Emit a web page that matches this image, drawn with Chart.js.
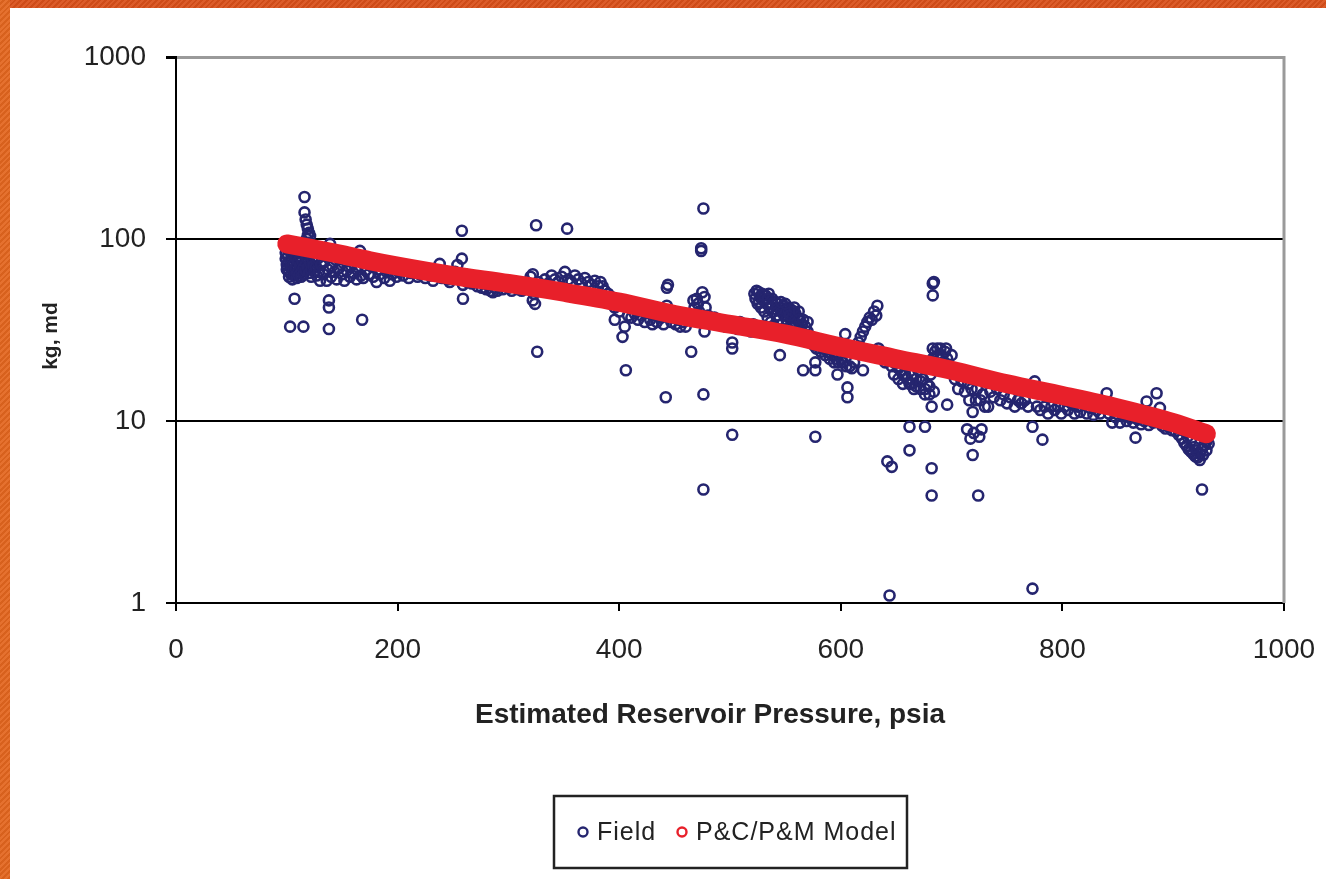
<!DOCTYPE html>
<html>
<head>
<meta charset="utf-8">
<title>kg vs reservoir pressure</title>
<script src="https://cdn.jsdelivr.net/npm/chart.js@4/dist/chart.umd.min.js"></script>
<style>
  html, body { margin: 0; padding: 0; background: #fff; overflow: hidden; }
  #wrap { position: relative; width: 1326px; height: 879px; }
  #myChart { position: absolute; left: 0; top: 0; }
  .band { position: absolute;
    background-image: repeating-linear-gradient(135deg, rgba(255,255,255,0.07) 0 2px, rgba(0,0,0,0.05) 2px 4px); }
  #band-top { left: 0; top: 0; width: 1326px; height: 8px; background-color: #d9501a; }
  #band-left { left: 0; top: 0; width: 10px; height: 879px; background-color: #e3661f; }
</style>
</head>
<body>
<div id="wrap">
  <canvas id="myChart" width="1326" height="879"></canvas>
  <div class="band" id="band-top"></div>
  <div class="band" id="band-left"></div>
</div>
<script>
// model curve (P&C/P&M), pressure in psia and kg in md
const modelPressure = [100, 125, 150, 175, 200, 250, 300, 350, 400, 450, 500, 550, 600, 650, 700, 750, 800, 850, 900, 930];
const modelKg = [94, 88, 82, 76, 71, 63, 57, 51, 45, 38.5, 34, 30, 25.5, 22, 19, 16, 13.8, 11.8, 9.8, 8.5];

// field measurements [psia, md]
const fieldPoints = [
  [99,90],[99,84],[99,78],[100,72],[100,68],[101,88],[101,80],[101,74],[102,66],[102,62],
  [103,92],[103,85],[103,76],[104,70],[104,64],[105,60],[105,82],[106,72],[106,67],[107,63],
  [107,88],[108,78],[108,70],[109,65],[109,61],[110,84],[110,75],[111,68],[111,63],[112,80],
  [112,71],[113,66],[113,62],[114,90],[114,76],[115,69],[115,64],[116,95],[116,85],[117,73],
  [117,67],[118,100],[118,79],[119,105],[119,70],[120,65],[120,83],[121,74],[122,68],[122,62],
  [123,78],[124,71],[125,66],
  [116,170],[116,140],[117,128],[118,120],[119,114],[120,108],[121,104],
  [107,47],[103,33],[115,33],[138,46],[138,42],[138,32],[168,36],
  [126,70],[127,63],[128,78],[129,66],[130,59],[131,72],[132,84],[133,64],[134,75],[136,59],
  [137,68],[138,80],[139,94],[140,62],[141,71],[143,66],[144,77],[145,60],[147,69],[148,83],
  [150,64],[151,74],[152,59],[154,67],[155,79],[157,62],[158,71],[160,65],[161,76],[163,60],
  [164,70],[166,86],[167,63],[168,74],[169,61],[171,67],[172,78],[174,64],[176,71],[178,62],
  [179,75],[181,58],[182,68],[184,64],[186,72],[188,61],[190,66],[192,70],[193,59],[195,64],
  [197,68],[199,62],[201,66],[203,70],[205,63],[208,67],[210,61],[212,65],[215,68],[218,62],
  [220,64],[223,66],[225,61],[228,64],[230,63],[232,59],[235,65],[238,73],[240,61],[243,63],
  [245,60],[247,58],[250,62],
  [252,66],[254,72],[256,60],[258,78],[258,111],[259,56],[259,47],[261,64],[263,58],[265,62],
  [267,57],[270,60],[272,55],[274,58],[276,54],[278,57],[280,53],[282,56],[284,52],[286,51],
  [288,54],[290,52],[292,55],[295,53],[298,56],[300,54],[303,52],[306,55],[309,53],[312,52],
  [315,54],[318,56],[320,62],[322,64],[322,46],[323,50],[324,44],[325,119],[326,24],[327,58],
  [330,55],[333,60],[336,57],[339,63],[342,60],[345,58],[348,62],[351,66],[353,114],[354,60],
  [357,58],[360,63],[363,60],[366,57],[369,61],[372,58],[375,56],[378,59],[381,55],[383,58],
  [385,55],[387,52],[390,50],[393,48],
  [396,42],[396,36],[400,40],[403,29],[405,33],[406,19],[408,38],[411,37],[414,39],[417,36],
  [420,38],[423,35],[426,40],[428,36],[430,34],[432,38],[434,35],[436,41],[438,37],[440,34],
  [442,13.5],[443,43],[443,54],[444,56],[445,38],[447,35],[449,37],[451,34],[453,36],[455,33],
  [458,35],[460,33],
  [465,24],[467,46],[468,42],[470,47],[471,44],[472,40],[474,89],[474,86],[475,51],[476,147],
  [476,14],[476,4.2],[477,31],[477,48],[478,42],[480,38],[482,36],[484,35],[486,37],[488,34],
  [490,36],[492,34],[494,35],[496,33],[498,35],[500,34],[502,27],[502,25],[502,8.4],[503,33],
  [505,34],[507,32],[509,35],[511,33],[513,34],[515,32],[517,33],[519,31],[521,34],
  [522,50],[523,47],[524,52],[525,44],[526,51],[527,48],[528,42],[529,50],[530,46],[531,40],
  [532,49],[533,44],[534,37],[535,50],[536,42],[537,35],[538,47],[539,40],[540,33],[541,45],
  [542,38],[543,44],[544,36],[545,23],[545,42],[546,40],[547,34],[548,43],[549,38],[550,41],
  [551,36],[552,42],[553,39],[554,33],[555,41],[556,37],[557,40],[558,35],[559,39],[560,34],
  [561,37],[562,32],[563,36],[564,31],[565,34],[566,19],[567,30],[568,33],[569,29],[570,31],
  [572,28],[526,45],[530,49],[534,47],[538,44],[542,41],[546,45],[550,44],[554,38],[558,42],
  [562,40],[566,36],[570,35],
  [574,27],[576,26],[577,21],[577,19],[577,8.2],[578,25],[580,26],[582,24],[584,25],[586,23],
  [588,24],[590,22],[592,23],[594,21],[596,22],[597,18],[598,21],[600,22],[602,21],[604,30],
  [605,20],[606,15.3],[606,13.5],[608,20],[610,19.5],[612,21],[614,24],[616,27],[618,29],[620,19],
  [620,31],[622,33],[624,35],[626,37],[628,36],[630,40],[632,38],[633,43],[634,25],[636,24],
  [638,22],[640,21],[642,6],
  [644,1.1],[646,5.6],[644,22],[646,20],[648,18],[650,21],[652,17],[654,19],[656,16],[658,18],
  [660,20],[662,16],[662,9.3],[662,6.9],[664,18],[666,15],[668,17],[670,19],[672,15],[674,17],
  [676,14],[676,9.3],[678,16],[680,14],[681,18],[682,12],[682,5.5],[682,3.9],[683,22],[683,25],
  [683,49],[683,57],[684,58],[685,24],[686,20],[688,23],[690,25],[692,21],[694,24],[696,22],
  [696,12.3],[698,20],[700,23],[701,19],
  [648,21],[652,19.5],[656,18],[660,17],[664,16],[668,15.5],[672,16.5],[676,15],[680,15.5],[684,14.5],
  [687,25],[691,23],[695,25],
  [703,17],[706,15],[709,16.5],[712,14.5],[714,9],[715,16],[716,13],[717,8],[718,15],[719,11.2],
  [719,6.5],[720,8.6],[722,13],[723,15],[724,3.9],[725,8.2],[726,13],[727,9],[728,14],[730,12],
  [733,12],[735,14.5],[738,13.5],[741,15],[744,13],[747,14],[750,12.5],[753,13.5],[757,12],[760,13],
  [763,12.5],[766,13],[769,12],[772,15.5],[773,9.3],[773,1.2],[775,16.5],[777,12],[780,11.5],[782,7.9],
  [784,12],[787,11],[790,12],[793,11.5],[796,12],[799,11],
  [802,12],[805,11.5],[808,12.5],[811,11],[814,12],[816,11.2],[819,12.3],[822,11],[825,11.8],[828,10.8],
  [831,11.5],[834,11],[837,12],[840,14.2],[842,11],[845,9.8],[848,10.5],[852,9.8],[855,10.6],[858,10],
  [861,10.4],[864,9.8],[866,8.1],[868,10.2],[871,9.6],[874,10],[876,12.8],[878,9.5],[882,9.8],[885,14.2],
  [888,11.8],[890,9.4],[893,9.1],[896,9.3],[899,8.9],[902,8.8],[905,8.4],[908,8],[910,7.6],[912,7.3],
  [914,7],[916,6.8],[918,6.6],[920,6.4],[922,6.3],[924,6.6],[926,4.2],[926,7],[928,7.4],[929,8],
  [930,7.7],[931,8.5],[910,8.8],[913,8.2],[916,7.8],[919,7.2],[921,6.9],[924,6.1],[927,6.5],[930,6.9],
  [932,7.5]
];

const yTickValues = [1, 10, 100, 1000];
const seriesNames = ['Field', 'P&C/P&M Model'];
const xTitle = 'Estimated Reservoir Pressure, psia';
const yTitle = 'kg, md';

const fieldColor = '#25256f';
const modelColor = '#e8202a';
const fontFamily = '"Liberation Sans", Arial, sans-serif';

// grey right edge of the plot, axis titles and the boxed legend below
const boxPlugin = {
  id: 'boxPlugin',
  afterDraw(chart) {
    const ctx = chart.ctx;
    const area = chart.chartArea;
    ctx.save();
    ctx.strokeStyle = '#9a9a9a';
    ctx.lineWidth = 3;
    ctx.beginPath();
    ctx.moveTo(area.right, area.top - 1);
    ctx.lineTo(area.right, area.bottom);
    ctx.stroke();

    ctx.fillStyle = '#222';
    ctx.font = 'bold 28px ' + fontFamily;
    ctx.textAlign = 'center';
    ctx.textBaseline = 'middle';
    ctx.fillText(xTitle, 710, 715);

    ctx.save();
    ctx.translate(51, 336);
    ctx.rotate(-Math.PI / 2);
    ctx.font = 'bold 21px ' + fontFamily;
    ctx.fillText(yTitle, 0, 0);
    ctx.restore();

    // legend
    const boxX = 554, boxY = 796, boxW = 353, boxH = 72;
    ctx.strokeStyle = '#222';
    ctx.lineWidth = 2.5;
    ctx.strokeRect(boxX, boxY, boxW, boxH);
    const midY = boxY + boxH / 2;
    ctx.font = '25px ' + fontFamily;
    ctx.letterSpacing = '1px';
    ctx.textAlign = 'left';
    const items = [
      { color: fieldColor, cx: 583, tx: 597, text: seriesNames[0] },
      { color: modelColor, cx: 682, tx: 696, text: seriesNames[1] }
    ];
    items.forEach(it => {
      ctx.beginPath();
      ctx.strokeStyle = it.color;
      ctx.lineWidth = 2.4;
      ctx.arc(it.cx, midY, 4.5, 0, Math.PI * 2);
      ctx.stroke();
      ctx.fillText(it.text, it.tx, midY + 1);
    });
    ctx.restore();
  }
};

const ctx = document.getElementById('myChart').getContext('2d');
const myChart = new Chart(ctx, {
  type: 'scatter',
  data: {
    datasets: [{
      label: seriesNames[0],
      data: fieldPoints.map(p => ({ x: p[0], y: p[1] })),
      borderColor: fieldColor,
      backgroundColor: 'rgba(0,0,0,0)',
      pointRadius: 5,
      pointBorderWidth: 2.6,
      order: 1
    }, {
      label: seriesNames[1],
      data: modelPressure.map((p, i) => ({ x: p, y: modelKg[i] })),
      showLine: true,
      borderColor: modelColor,
      borderWidth: 19,
      borderCapStyle: 'round',
      borderJoinStyle: 'round',
      cubicInterpolationMode: 'monotone',
      pointRadius: 0,
      order: 0
    }]
  },
  options: {
    responsive: false,
    animation: false,
    devicePixelRatio: 1,
    layout: {
      padding: { top: 57, right: 42, bottom: 0, left: 0 }
    },
    scales: {
      x: {
        type: 'linear',
        min: 0,
        max: 1000,
        afterFit: scale => {
          scale.height = 276;
          scale.paddingLeft = 0;
          scale.paddingRight = 0;
        },
        ticks: {
          stepSize: 200,
          padding: 22,
          color: '#222',
          callback: value => String(value),
          font: { family: fontFamily, size: 28 }
        },
        grid: {
          drawOnChartArea: false,
          drawTicks: true,
          tickLength: 8,
          tickColor: '#000',
          lineWidth: 2
        },
        border: { display: true, color: '#000', width: 2 }
      },
      y: {
        type: 'logarithmic',
        min: 1,
        max: 1000,
        afterFit: scale => { scale.width = 176; },
        afterBuildTicks: scale => {
          scale.ticks = yTickValues.map(v => ({ value: v }));
        },
        ticks: {
          padding: 20,
          color: '#222',
          callback: value => String(value),
          font: { family: fontFamily, size: 28 }
        },
        grid: {
          drawTicks: true,
          tickLength: 10,
          tickColor: '#000',
          lineWidth: c => (c.tick && c.tick.value === 1000 ? 3 : 2),
          color: c => (c.tick && c.tick.value === 1000 ? '#9a9a9a' : '#000')
        },
        border: { display: true, color: '#000', width: 2 }
      }
    },
    plugins: {
      legend: { display: false },
      tooltip: { enabled: false }
    }
  },
  plugins: [boxPlugin]
});
</script>
</body>
</html>
